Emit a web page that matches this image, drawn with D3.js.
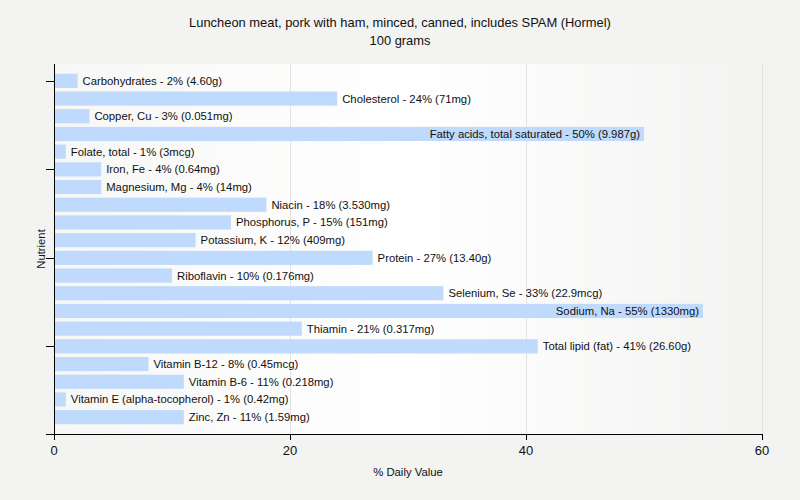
<!DOCTYPE html>
<html><head><meta charset="utf-8">
<script src="https://cdn.jsdelivr.net/npm/d3@7"></script>
<style>body{margin:0;background:#f3f3f2;} text{font-family:"Liberation Sans",Arial,sans-serif;}</style>
</head><body>
<svg id="c" width="800" height="500"></svg>
<script>
const categories = ["Carbohydrates","Cholesterol","Copper, Cu","Fatty acids, total saturated","Folate, total","Iron, Fe","Magnesium, Mg","Niacin","Phosphorus, P","Potassium, K","Protein","Riboflavin","Selenium, Se","Sodium, Na","Thiamin","Total lipid (fat)","Vitamin B-12","Vitamin B-6","Vitamin E (alpha-tocopherol)","Zinc, Zn"];
const values = [2,24,3,50,1,4,4,18,15,12,27,10,33,55,21,41,8,11,1,11];
const amounts = ["4.60g","71mg","0.051mg","9.987g","3mcg","0.64mg","14mg","3.530mg","151mg","409mg","13.40g","0.176mg","22.9mcg","1330mg","0.317mg","26.60g","0.45mcg","0.218mg","0.42mg","1.59mg"];
const xTicks = [0,20,40,60];
const title1 = "Luncheon meat, pork with ham, minced, canned, includes SPAM (Hormel)";
const title2 = "100 grams";

const FS = 11.3;
const svg = d3.select("#c");
const L=54,R=762,T=64,B=434;
const x = d3.scaleLinear().domain([0,60]).range([L,R]);
const y = d3.scaleBand().domain(categories).range([72,426]).paddingInner(0.2).paddingOuter(0.1);

const defs = svg.append("defs");
const g = defs.append("linearGradient").attr("id","bg").attr("x1","0").attr("x2","1").attr("y1","0").attr("y2","0");
g.append("stop").attr("offset","0%").attr("stop-color","#f7f7f6");
g.append("stop").attr("offset","50%").attr("stop-color","#ffffff");
g.append("stop").attr("offset","100%").attr("stop-color","#f3f3f2");
svg.append("rect").attr("x",L).attr("y",T).attr("width",R-L).attr("height",B-T).attr("fill","url(#bg)");

svg.selectAll(".grid").data(xTicks.slice(1)).join("line")
  .attr("x1",d=>x(d)+0.5).attr("x2",d=>x(d)+0.5).attr("y1",T).attr("y2",B)
  .attr("stroke","#e2e2e2").attr("stroke-width",1);

svg.selectAll(".bar").data(categories).join("rect")
  .attr("x",x(0)).attr("y",d=>y(d)).attr("width",(d,i)=>x(values[i])-x(0)).attr("height",y.bandwidth())
  .attr("fill","#bfdafc");

svg.selectAll(".lbl").data(categories).join("text")
  .attr("font-size",FS).attr("fill","#111")
  .attr("y",d=>y(d)+y.bandwidth()/2).attr("dy","0.35em")
  .text((d,i)=>`${d} - ${values[i]}% (${amounts[i]})`)
  .each(function(d,i){
    const w=this.getComputedTextLength();
    const e=x(values[i]);
    if(e+5+w>R){ d3.select(this).attr("x",e-4).attr("text-anchor","end"); }
    else { d3.select(this).attr("x",e+5).attr("text-anchor","start"); }
  });

// axes
svg.append("line").attr("x1",L+0.5).attr("x2",L+0.5).attr("y1",T).attr("y2",B).attr("stroke","#000");
svg.append("line").attr("x1",46).attr("x2",R+0.5).attr("y1",B+0.5).attr("y2",B+0.5).attr("stroke","#000");
const yTickCats = categories.filter((d,i)=>i%5===0);
svg.selectAll(".yt").data(yTickCats).join("line")
  .attr("x1",46).attr("x2",L).attr("y1",d=>Math.round(y(d)+y.bandwidth()/2)+0.5).attr("y2",d=>Math.round(y(d)+y.bandwidth()/2)+0.5).attr("stroke","#000");
svg.selectAll(".xt").data(xTicks).join("line")
  .attr("x1",d=>x(d)+0.5).attr("x2",d=>x(d)+0.5).attr("y1",B).attr("y2",B+6).attr("stroke","#000");
svg.selectAll(".xl").data(xTicks).join("text")
  .attr("x",d=>x(d)).attr("y",455).attr("text-anchor","middle").attr("font-size",13).attr("fill","#111").text(d=>d);

svg.append("text").attr("x",408).attr("y",476).attr("text-anchor","middle").attr("font-size",FS).attr("fill","#111").text("% Daily Value");
svg.append("text").attr("transform","translate(45,249) rotate(-90)").attr("text-anchor","middle").attr("font-size",FS).attr("fill","#111").text("Nutrient");
svg.append("text").attr("x",400).attr("y",27).attr("text-anchor","middle").attr("font-size",12.9).attr("fill","#111").text(title1);
svg.append("text").attr("x",400).attr("y",45).attr("text-anchor","middle").attr("font-size",12.9).attr("fill","#111").text(title2);
</script>
</body></html>
